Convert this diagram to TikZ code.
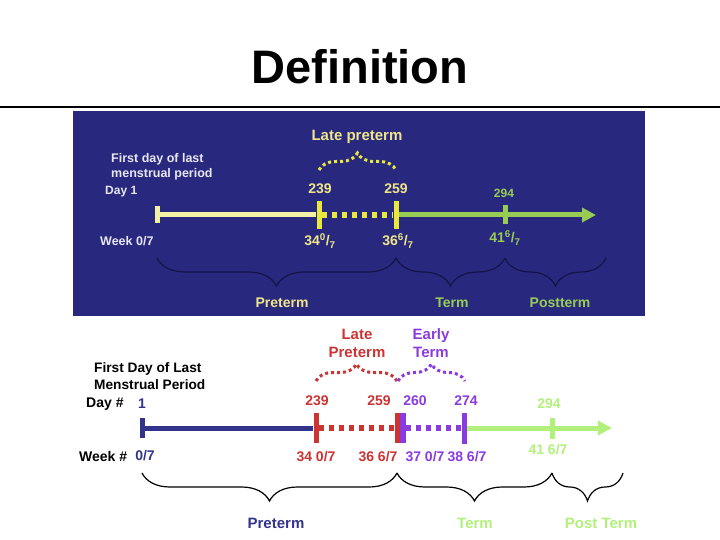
\documentclass[tikz,border=0pt]{standalone}
\usepackage{fontspec}
\setmainfont{Liberation Sans}
\usepackage{xcolor}
\usepackage{tikz}
\usetikzlibrary{arrows.meta,decorations.pathreplacing,calc}
\definecolor{navy800}{HTML}{28287E}
\definecolor{navy600}{HTML}{33338C}
\definecolor{ink950}{HTML}{14144A}
\definecolor{lemon200}{HTML}{F3F1A6}
\definecolor{yellow400}{HTML}{E8E83E}
\definecolor{khaki300}{HTML}{EFE68A}
\definecolor{lime500}{HTML}{99CC55}
\definecolor{ghost100}{HTML}{E8E8F4}
\definecolor{red600}{HTML}{CC3333}
\definecolor{violet600}{HTML}{8A3BDF}
\definecolor{green300}{HTML}{B2F07C}
\newcommand{\pfont}[2]{\fontsize{#1}{#2}\selectfont}
\tikzset{
  every node/.style={inner sep=0pt},
  lblbig/.style={font=\bfseries\pfont{15}{18}, align=center},
  lblmid/.style={font=\bfseries\pfont{14}{17}, align=center},
  lblsmall/.style={font=\bfseries\pfont{12.5}{15}, align=left},
  tickmark/.style={rectangle, inner sep=0pt, minimum width=5pt, draw=none},
  dotbrace/.style={
    decorate, decoration={brace, amplitude=17pt},
    line width=3pt, dash pattern=on 3pt off 3pt
  },
  spanbrace/.style={
    decorate, decoration={brace, mirror, amplitude=28pt},
    line width=1.2pt
  },
  timeline/.style={line width=5pt},
  dotline/.style={line width=5.5pt, dash pattern=on 5.5pt off 4.5pt},
  arrowhead/.style={-{Triangle[length=14pt,width=14pt]}},
}

\begin{document}
\begin{tikzpicture}[x=1pt,y=-1pt]
  \useasboundingbox (0,0) rectangle (720,540);
  \node[font=\bfseries\pfont{47}{56}] (title) at (360,67) {Definition};
  \draw[line width=2.5pt] (0,107) -- (720,107);

  % upper panel
  \fill[navy800] (73,111) rectangle (645,316);
  \node[tickmark, fill=lemon200, minimum height=17pt] (a1) at (157,215) {};
  \node[tickmark, fill=yellow400, minimum height=28pt] (a239) at (319,215) {};
  \node[tickmark, fill=yellow400, minimum height=28pt] (a259) at (396,215) {};
  \node[tickmark, fill=lime500, minimum height=19pt] (a294) at (505,215) {};
  \coordinate (aend) at (596,215);
  \coordinate (aspan) at (606,258);
  \draw[timeline, lemon200] (a1) -- (a239);
  \draw[dotline, yellow400] (a239) -- (a259);
  \draw[timeline, lime500, arrowhead] (a259) -- (aend);
  \draw[dotbrace, yellow400] ($(a239)+(0,-45)$) -- ($(a259)+(0,-45)$);
  \draw[spanbrace, ink950] ($(a1)+(0,43)$) -- ($(a259)+(0,43)$);
  \draw[spanbrace, ink950] ($(a259)+(0,43)$) -- ($(a294)+(0,43)$);
  \draw[spanbrace, ink950] ($(a294)+(0,43)$) -- (aspan);

  \node[lblbig, khaki300] (alate) at (357,137) {Late preterm};
  \node[lblsmall, ghost100, anchor=west] (afirst) at (111,167) {First day of last\\menstrual period};
  \node[lblsmall, ghost100, anchor=west, font=\bfseries\pfont{12}{14}] (aday) at (105,192) {Day 1};
  \node[lblmid, khaki300] (ad239) at (320,189) {239};
  \node[lblmid, khaki300] (ad259) at (396,189) {259};
  \node[lblsmall, lime500, font=\bfseries\pfont{12}{14}] (ad294) at (504,193) {294};
  \node[lblsmall, ghost100, anchor=west] (aweek) at (100,241) {Week 0/7};
  \node[lblmid, khaki300] (aw34) at (320,241) {34\textsuperscript{0}/\textsubscript{7}};
  \node[lblmid, khaki300] (aw36) at (398,241) {36\textsuperscript{6}/\textsubscript{7}};
  \node[lblmid, lime500] (aw41) at (505,238) {41\textsuperscript{6}/\textsubscript{7}};
  \node[lblmid, khaki300] (apre) at (282,303) {Preterm};
  \node[lblmid, lime500] (aterm) at (452,303) {Term};
  \node[lblmid, lime500] (apost) at (560,303) {Postterm};

  % lower panel
  \node[tickmark, fill=navy600, minimum height=20pt] (b1) at (142,428) {};
  \node[tickmark, fill=red600, minimum height=30pt] (b239) at (316,428) {};
  \node[tickmark, fill=red600, minimum height=30pt] (b259) at (397,428) {};
  \node[tickmark, fill=violet600, minimum height=30pt, minimum width=6pt] (b260) at (402.5,428) {};
  \node[tickmark, fill=violet600, minimum height=31pt] (b274) at (464,428) {};
  \node[tickmark, fill=green300, minimum height=21pt] (b294) at (552,428) {};
  \coordinate (bend) at (612,428);
  \coordinate (bspan) at (623,473);
  \draw[timeline, navy600] (b1) -- (b239);
  \draw[dotline, red600] (b239) -- (b259);
  \draw[dotline, violet600] (b260) -- (b274);
  \draw[timeline, green300, arrowhead] (b274) -- (bend);
  \draw[dotbrace, red600] ($(b239)+(0,-47)$) -- ($(b259)+(0,-47)$);
  \draw[dotbrace, violet600] ($(b259)+(1,-47)$) -- ($(b274)+(1,-47)$);
  \draw[spanbrace, black] ($(b1)+(0,45)$) -- ($(b259)+(0,45)$);
  \draw[spanbrace, black] ($(b259)+(0,45)$) -- ($(b294)+(0,45)$);
  \draw[spanbrace, black] ($(b294)+(0,45)$) -- (bspan);

  \node[lblbig, red600] (blate) at (357,343) {Late\\Preterm};
  \node[lblbig, violet600] (bearly) at (431,343) {Early\\Term};
  \node[lblsmall, black, anchor=west, font=\bfseries\pfont{13.7}{17}] (bfirst) at (94,376) {First Day of Last\\Menstrual Period};
  \node[lblmid, black, anchor=west] (bday) at (86,404) {Day \#};
  \node[lblmid, navy600] (bd1) at (142,404) {1};
  \node[lblmid, red600] (bd239) at (317,401) {239};
  \node[lblmid, red600] (bd259) at (379,401) {259};
  \node[lblmid, violet600] (bd260) at (415,401) {260};
  \node[lblmid, violet600] (bd274) at (466,401) {274};
  \node[lblmid, green300] (bd294) at (549,404) {294};
  \node[lblmid, black, anchor=west] (bweek) at (79,456) {Week \#};
  \node[lblmid, navy600] (bw0) at (145,456) {0/7};
  \node[lblmid, red600] (bw34) at (316,457) {34 0/7};
  \node[lblmid, red600] (bw36) at (378,457) {36 6/7};
  \node[lblmid, violet600] (bw37) at (425,457) {37 0/7};
  \node[lblmid, violet600] (bw38) at (467,457) {38 6/7};
  \node[lblmid, green300] (bw41) at (548,450) {41 6/7};
  \node[lblbig, navy600] (bpre) at (276,523) {Preterm};
  \node[lblbig, green300] (bterm) at (475,523) {Term};
  \node[lblbig, green300] (bpost) at (601,523) {Post Term};
\end{tikzpicture}
\end{document}
